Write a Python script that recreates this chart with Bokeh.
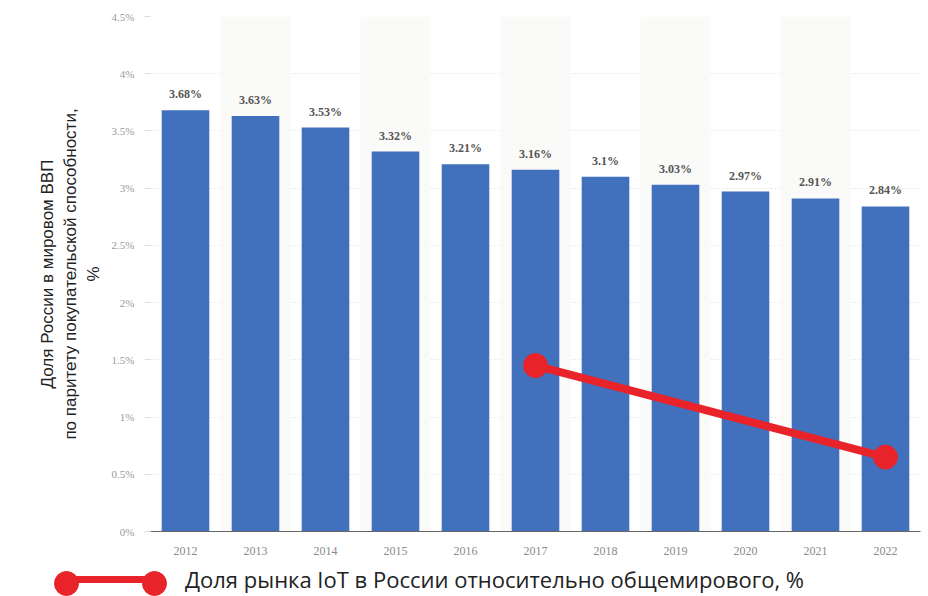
from bokeh.plotting import figure
from bokeh.layouts import column
from bokeh.models import (ColumnDataSource, FactorRange, Range1d, Legend, LegendItem,
                          LabelSet, FixedTicker)
from bokeh.core.properties import value
from bokeh.embed import file_html
from bokeh.resources import INLINE

years = ["2012", "2013", "2014", "2015", "2016", "2017", "2018", "2019", "2020", "2021", "2022"]
gdp_share = [3.68, 3.63, 3.53, 3.32, 3.21, 3.16, 3.10, 3.03, 2.97, 2.91, 2.84]
gdp_labels = ["3.68%", "3.63%", "3.53%", "3.32%", "3.21%", "3.16%", "3.1%", "3.03%", "2.97%", "2.91%", "2.84%"]
iot_years = ["2017", "2022"]
iot_share = [1.45, 0.65]
y_ticks = [0, 0.5, 1, 1.5, 2, 2.5, 3, 3.5, 4, 4.5]
y_tick_labels = ["0%", "0.5%", "1%", "1.5%", "2%", "2.5%", "3%", "3.5%", "4%", "4.5%"]
stripe_years = years[1::2]
y_max = 4.5

axis_title = "Доля России в мировом ВВП\nпо паритету покупательской способности,\n%"
legend_text = "Доля рынка IoT в России относительно общемирового, %"

RED = "#E8242A"

p = figure(width=928, height=562, x_range=FactorRange(factors=years, range_padding=0),
           y_range=Range1d(0, y_max), output_backend="svg", toolbar_location=None,
           min_border_left=150, min_border_right=8, min_border_top=16, min_border_bottom=31)
p.outline_line_color = None
p.background_fill_color = "white"
p.border_fill_color = "white"

# faint alternating stripes
p.vbar(x=stripe_years, top=[y_max] * len(stripe_years), width=1.0, bottom=0,
       fill_color="#fafaf8", line_color=None)

bars = ColumnDataSource(dict(x=years, top=gdp_share, lab=gdp_labels))
p.vbar(x="x", top="top", width=0.68, source=bars, fill_color="#4170BC", line_color=None)

labels = LabelSet(x="x", y="top", text="lab", source=bars, y_offset=9,
                  text_align="center", text_baseline="bottom",
                  text_font=value("Liberation Serif"), text_font_size="12px",
                  text_font_style="bold", text_color="#555555")
p.add_layout(labels)

iot = ColumnDataSource(dict(x=iot_years, y=iot_share))
p.line(x="x", y="y", source=iot, line_color=RED, line_width=8)
p.scatter(x="x", y="y", source=iot, size=24, fill_color=RED, line_color=RED)

# axes
p.yaxis.ticker = FixedTicker(ticks=y_ticks)
p.yaxis.major_label_overrides = {t: l for t, l in zip(y_ticks, y_tick_labels)}
p.yaxis.axis_line_color = None
p.yaxis.major_tick_line_color = "#dddddd"
p.yaxis.major_tick_in = 0
p.yaxis.major_tick_out = 6
p.yaxis.minor_tick_line_color = None
p.yaxis.major_label_text_color = "#9a9a9a"
p.yaxis.major_label_text_font = "Liberation Serif"
p.yaxis.major_label_text_font_size = "11px"
p.yaxis.major_label_standoff = 10
p.yaxis.axis_label = axis_title
p.yaxis.axis_label_text_font = "Liberation Sans"
p.yaxis.axis_label_text_font_style = "normal"
p.yaxis.axis_label_text_font_size = "17px"
p.yaxis.axis_label_text_color = "#222222"
p.yaxis.axis_label_text_align = "center"
p.yaxis.axis_label_standoff = 6

p.xaxis.axis_line_color = "#666666"
p.xaxis.axis_line_width = 1
p.xaxis.major_tick_line_color = None
p.xaxis.minor_tick_line_color = None
p.xaxis.major_label_text_color = "#8a8a8a"
p.xaxis.major_label_text_font = "Liberation Serif"
p.xaxis.major_label_text_font_size = "12px"
p.xaxis.major_label_standoff = 9

p.xgrid.grid_line_color = None
p.ygrid.grid_line_color = "#e8e8e8"
p.ygrid.grid_line_dash = "2 2"

# legend strip: same series drawn outside the visible y-range, only its legend shows
lg = figure(width=928, height=34, x_range=FactorRange(factors=years, range_padding=0),
            y_range=Range1d(10, 11), output_backend="svg", toolbar_location=None,
            min_border_left=0, min_border_right=0, min_border_top=0, min_border_bottom=0)
lg.axis.visible = False
lg.grid.grid_line_color = None
lg.outline_line_color = None
lg.border_fill_color = "white"
lg.background_fill_color = "white"
ln2 = lg.line(x="x", y="y", source=iot, line_color=RED, line_width=7)
sc2 = lg.scatter(x="x", y="y", source=iot, size=24, fill_color=RED, line_color=RED)

# let the legend strip keep its own full-width frame
for fig in (p, lg):
    try:
        fig.frame_align = False
    except AttributeError:
        pass

leg = Legend(items=[LegendItem(label=legend_text, renderers=[ln2])],
             location=(66, 2), orientation="horizontal",
             glyph_width=88, glyph_height=12, label_standoff=31,
             label_text_font="Open Sans", label_text_font_size="22px",
             label_text_color="#222222", padding=0, margin=0,
             border_line_color=None, background_fill_alpha=0)
lg.add_layout(leg, "center")
for cx in (66, 154):
    end = Legend(items=[LegendItem(label=value(""), renderers=[sc2])],
                 location=(cx - 30, -17), glyph_width=60, glyph_height=60,
                 label_standoff=0, padding=0, margin=0,
                 border_line_color=None, background_fill_alpha=0)
    lg.add_layout(end, "center")

layout = column(p, lg, spacing=0)
open("out.html", "w").write(file_html(layout, INLINE))
